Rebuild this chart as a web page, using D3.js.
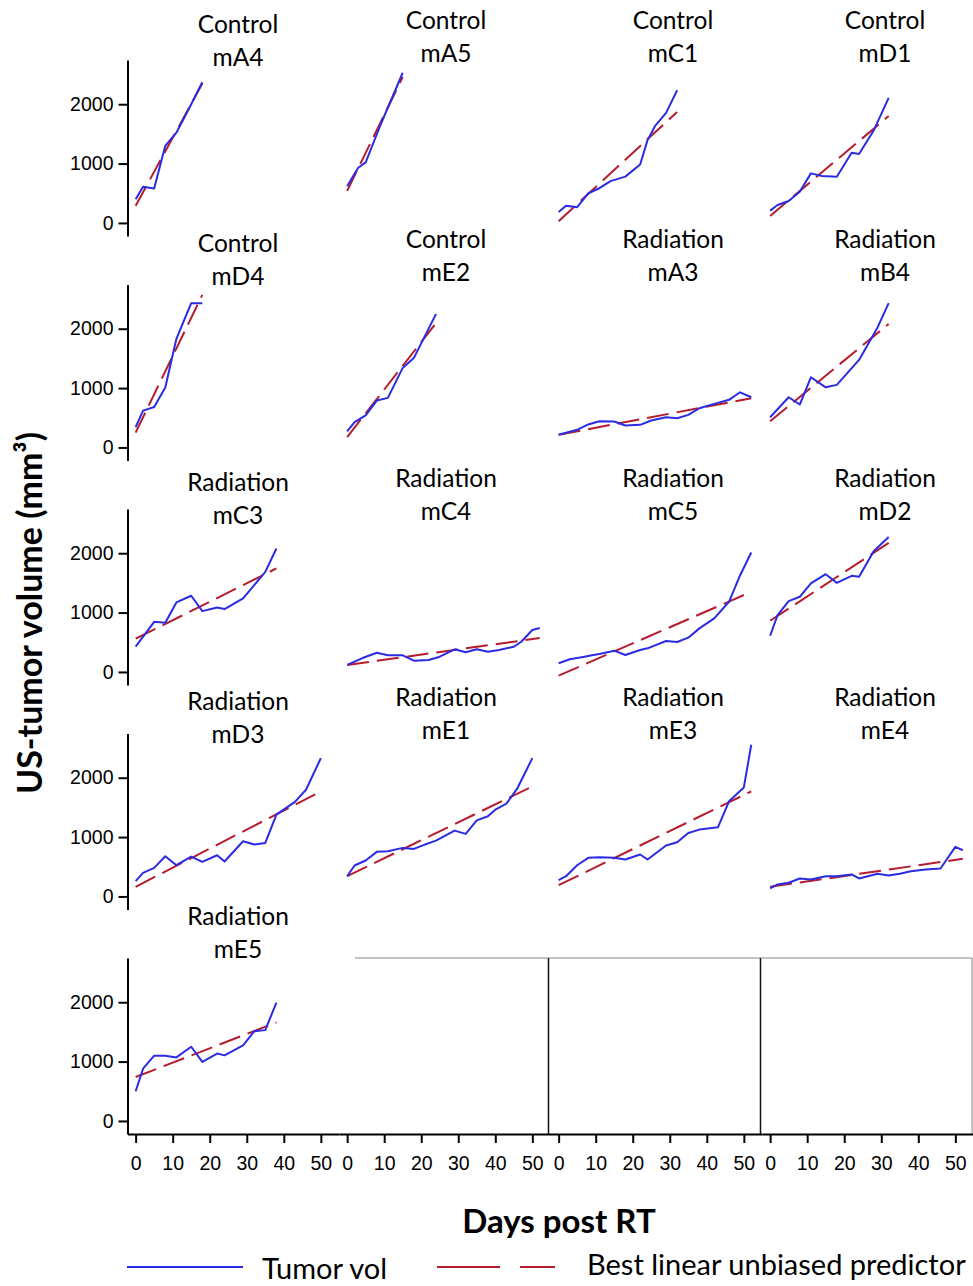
<!DOCTYPE html>
<html>
<head>
<meta charset="utf-8">
<title>US-tumor volume</title>
<script src="https://cdn.jsdelivr.net/npm/d3@7"></script>
<style>
	body { margin: 0; background: #fff; }
	.tick text { font-family: "Liberation Sans", Arial, sans-serif; font-size: 19.5px; fill: #000; }
	.axis path, .axis line { stroke: #000; stroke-width: 2; }
	.ttl { font-family: Lato, "Noto Sans", sans-serif; font-size: 24.5px; text-anchor: middle; fill: #000; }
</style>
</head>
<body>
<script>
// panels, row by row
var mice = ["mA4","mA5","mC1","mD1","mD4","mE2","mA3","mB4","mC3","mC4","mC5","mD2","mD3","mE1","mE3","mE4","mE5"];
var groups = ["Control","Control","Control","Control","Control","Control",
	"Radiation","Radiation","Radiation","Radiation","Radiation","Radiation",
	"Radiation","Radiation","Radiation","Radiation","Radiation"];

var days = [
	[0,2,5,8,11,15,18],
	[0,2,3,5,9,15],
	[0,2,5,8,11,14,18,22,24,26,29,32],
	[0,2,5,8,11,14,18,22,24,28,32],
	[0,2,5,8,11,15,18],
	[0,2,5,8,11,15,18,24],
	[0,5,8,11,15,18,22,25,29,32,35,38,42,46,49,52],
	[0,5,8,11,15,18,24,29,32],
	[0,5,8,11,15,18,22,24,29,35,38],
	[0,4,8,11,15,18,22,25,29,32,35,38,41,45,47,50,52],
	[0,3,7,9,11,15,18,22,24,29,32,35,38,42,46,49,52],
	[0,2,5,8,11,15,18,22,24,28,32],
	[0,2,5,8,11,15,18,22,24,29,32,35,38,43,46,50],
	[0,2,5,8,11,15,18,21,24,29,32,35,38,40,43,46,50],
	[0,2,5,8,11,15,18,22,24,29,32,35,38,43,46,50,52],
	[0,2,5,8,11,15,18,22,24,29,32,35,38,42,46,50,52],
	[0,2,5,8,11,15,18,22,24,29,32,35,38]
];
var tumorVol = [
	[400,610,580,1300,1520,2000,2370],
	[620,830,930,1020,1650,2530],
	[185,290,265,500,585,705,780,985,1395,1630,1855,2235],
	[207,303,370,526,835,790,778,1182,1160,1563,2106],
	[340,620,680,1010,1830,2430,2430],
	[270,425,540,790,835,1340,1505,2250],
	[213,297,387,442,437,370,381,454,509,493,549,660,734,802,929,845],
	[509,845,723,1182,1013,1054,1474,2022,2432],
	[425,845,829,1171,1283,1025,1087,1059,1239,1686,2079],
	[118,230,324,280,280,190,202,257,381,331,381,341,370,425,509,706,740],
	[146,213,257,281,303,358,286,370,398,521,504,577,734,902,1182,1630,2012],
	[610,958,1193,1266,1491,1647,1501,1619,1602,2039,2274],
	[257,398,482,677,526,672,583,694,588,929,874,902,1378,1592,1798,2331],
	[341,521,605,751,761,818,801,874,941,1109,1054,1282,1350,1462,1563,1826,2331],
	[274,341,526,650,661,650,622,706,622,857,913,1070,1126,1165,1602,1837,2555],
	[134,202,230,303,286,341,341,370,303,381,353,381,425,454,471,835,778],
	[500,880,1100,1100,1070,1250,995,1135,1105,1275,1510,1530,1995]
];
// BLUP line: value at first and at last measured day
var blupFirst = [290,540,30,118,250,175,213,442,560,118,-62,862,163,341,190,163,740];
var blupLast = [2350,2460,1870,1800,2570,2095,830,2080,1743,571,1350,2173,1770,1854,1770,634,1660];

var xTicks = [0,10,20,30,40,50];
var yTicks = [0,1000,2000];

var W = 973, H = 1286;
var svg = d3.select("body").append("svg").attr("width", W).attr("height", H);

var colLeft = [127.5, 339, 550.5, 762];
var panelW = 211.5, panelH = 176;
var rowTop = [60, 284.5, 509, 733.5, 958];
var titleX = [238, 446, 673, 885];
var titleBase = [62, 281, 520, 739, 954];
var blue = "#2b2be3", red = "#b51c2e";

function xs(c){ return d3.scaleLinear().domain([-2.2, 54.9]).range([colLeft[c], colLeft[c] + panelW]); }
function ys(r){ return d3.scaleLinear().domain([-220, 2745]).range([rowTop[r] + panelH, rowTop[r]]); }

// empty panels in the last row
var g0 = svg.append("g");
g0.append("line").attr("x1", 355).attr("x2", 972).attr("y1", 958).attr("y2", 958).attr("stroke", "#888").attr("stroke-width", 1);
g0.append("line").attr("x1", 972).attr("x2", 972).attr("y1", 958).attr("y2", 1134).attr("stroke", "#888").attr("stroke-width", 1);
[548.5, 760.5].forEach(function(x){
	g0.append("line").attr("x1", x).attr("x2", x).attr("y1", 958).attr("y2", 1134).attr("stroke", "#111").attr("stroke-width", 1.5);
});

mice.forEach(function(m, i){
	var r = Math.floor(i / 4), c = i % 4;
	var x = xs(c), y = ys(r);
	var g = svg.append("g");
	var pts = days[i].map(function(d, k){ return [d, tumorVol[i][k]]; });
	var line = d3.line().x(function(d){ return x(d[0]); }).y(function(d){ return y(d[1]); });
	var d0 = days[i][0], d1 = days[i][days[i].length - 1];
	g.append("path").attr("d", line([[d0, blupFirst[i]], [d1, blupLast[i]]]))
		.attr("fill", "none").attr("stroke", red).attr("stroke-width", 2).attr("stroke-dasharray", "22,8");
	g.append("path").attr("d", line(pts))
		.attr("fill", "none").attr("stroke", blue).attr("stroke-width", 2).attr("stroke-linejoin", "round");

	var tb = titleBase[r] + (c == 0 ? 4 : 0);
	g.append("text").attr("class", "ttl").attr("x", titleX[c]).attr("y", tb - 33).text(groups[i]);
	g.append("text").attr("class", "ttl").attr("x", titleX[c]).attr("y", tb).text(m);

	if (c == 0) {
		svg.append("g").attr("class", "axis")
			.attr("transform", "translate(" + colLeft[0] + ",0)")
			.call(d3.axisLeft(y).tickValues(yTicks).tickFormat(d3.format("d")).tickSize(9).tickSizeOuter(0).tickPadding(5));
	}
});

// shared x axis under the last row
for (var c = 0; c < 4; c++) {
	svg.append("g").attr("class", "axis")
		.attr("transform", "translate(0," + (rowTop[4] + panelH) + ")")
		.call(d3.axisBottom(xs(c)).tickValues(xTicks).tickSize(9).tickSizeOuter(0).tickPadding(13));
}

svg.append("text")
	.attr("transform", "translate(42,613) rotate(-90)")
	.attr("text-anchor", "middle")
	.style("font-family", "Lato, sans-serif").style("font-weight", "bold").style("font-size", "34px")
	.text("US-tumor volume (mm³)");

svg.append("text")
	.attr("x", 559).attr("y", 1233)
	.attr("text-anchor", "middle")
	.style("font-family", "Lato, sans-serif").style("font-weight", "bold").style("font-size", "33px")
	.text("Days post RT");

// legend
var lg = svg.append("g").style("font-family", "Lato, sans-serif").style("font-size", "29px");
lg.append("line").attr("x1", 127).attr("x2", 243).attr("y1", 1267).attr("y2", 1267).attr("stroke", blue).attr("stroke-width", 2);
lg.append("text").attr("x", 262).attr("y", 1279).text("Tumor vol");
lg.append("line").attr("x1", 437).attr("x2", 555).attr("y1", 1267).attr("y2", 1267).attr("stroke", red).attr("stroke-width", 2).attr("stroke-dasharray", "63,20");
lg.append("text").attr("x", 587).attr("y", 1275).text("Best linear unbiased predictor");
</script>
</body>
</html>
